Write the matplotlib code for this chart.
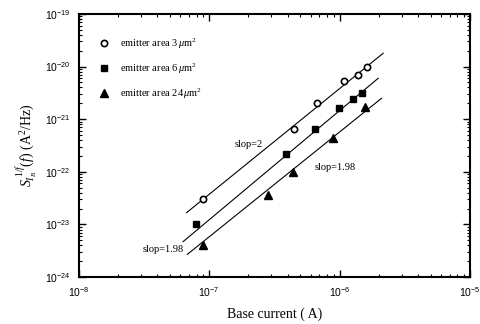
import numpy as np
import matplotlib
matplotlib.use("Agg")
from matplotlib import pyplot as plt
from matplotlib.ticker import NullFormatter

# base current (A) and 1/f noise S_IB (A^2/Hz)
ib_3um  = [8.9e-8, 4.5e-7, 6.7e-7, 1.09e-6, 1.39e-6, 1.61e-6]
sib_3um = [3.0e-23, 6.5e-22, 2.0e-21, 5.2e-21, 6.9e-21, 1.0e-20]

ib_6um  = [7.9e-8, 3.9e-7, 6.5e-7, 9.9e-7, 1.27e-6, 1.48e-6]
sib_6um = [1.02e-23, 2.2e-22, 6.5e-22, 1.6e-21, 2.4e-21, 3.2e-21]

ib_24um  = [8.9e-8, 2.8e-7, 4.4e-7, 8.9e-7, 1.57e-6]
sib_24um = [4.1e-24, 3.6e-23, 9.7e-23, 4.3e-22, 1.7e-21]

# straight fit lines (end points)
fit_3um_x  = [6.7e-8, 2.16e-6]
fit_3um_y  = [1.67e-23, 1.79e-20]
fit_6um_x  = [6.3e-8, 1.98e-6]
fit_6um_y  = [4.7e-24, 6.0e-21]
fit_24um_x = [6.8e-8, 2.10e-6]
fit_24um_y = [2.7e-24, 2.5e-21]

xticks = [1e-8, 1e-7, 1e-6, 1e-5]
yticks = [1e-24, 1e-23, 1e-22, 1e-21, 1e-20, 1e-19]

labels = [r"emitter area 3$\,\mu$m$^2$", r"emitter area 6$\,\mu$m$^2$", r"emitter area 24$\,\mu$m$^2$"]

plt.rcParams['font.family'] = 'Liberation Serif'
plt.rcParams['mathtext.fontset'] = 'custom'
plt.rcParams['mathtext.rm'] = 'Liberation Serif'
plt.rcParams['mathtext.it'] = 'Liberation Serif:italic'

fig = plt.figure(figsize=(4.81, 3.24), dpi=100)
ax = fig.add_axes([0.164, 0.145, 0.813, 0.812])

ax.plot(fit_3um_x, fit_3um_y, color='k', lw=0.8)
ax.plot(fit_6um_x, fit_6um_y, color='k', lw=0.8)
ax.plot(fit_24um_x, fit_24um_y, color='k', lw=0.8)

ax.plot(ib_3um, sib_3um, 'o', ms=4.5, mfc='white', mec='k', mew=1.2, ls='none', label=labels[0])
ax.plot(ib_6um, sib_6um, 's', ms=5, color='k', ls='none', label=labels[1])
ax.plot(ib_24um, sib_24um, '^', ms=5.5, color='k', ls='none', label=labels[2])

ax.set_xscale('log')
ax.set_yscale('log')
ax.set_xticks(xticks)
ax.set_yticks(yticks)
ax.xaxis.set_minor_formatter(NullFormatter())
ax.yaxis.set_minor_formatter(NullFormatter())
ax.set_xlim(1e-8, 1e-5)
ax.set_ylim(1e-24, 1e-19)

ax.tick_params(which='both', direction='in', top=True, right=True)
ax.tick_params(which='major', length=5, width=1, labelsize=7.5, pad=6)
ax.tick_params(which='minor', length=2.5, width=0.8)
for lab in ax.get_xticklabels() + ax.get_yticklabels():
    lab.set_family('Liberation Sans')
for s in ax.spines.values():
    s.set_linewidth(1.5)

ax.text(2.0e-7, 3.3e-22, "slop=2", fontsize=7.5, ha='center', va='center')
ax.text(9.2e-7, 1.2e-22, "slop=1.98", fontsize=7.5, ha='center', va='center')
ax.text(4.4e-8, 3.3e-24, "slop=1.98", fontsize=7.5, ha='center', va='center')

ax.legend(loc='upper left', bbox_to_anchor=(0.04, 0.93), frameon=False, fontsize=7.5,
          labelspacing=1.0, handletextpad=1.0, handlelength=1.0, borderaxespad=0)

ax.set_xlabel('Base current ( A)', fontsize=10, labelpad=6)
ax.set_ylabel(r"$S_{I_B}^{\ 1/f}(f)$ (A$^2$/Hz)", fontsize=10, labelpad=4)

plt.savefig('out.png', dpi=100)
